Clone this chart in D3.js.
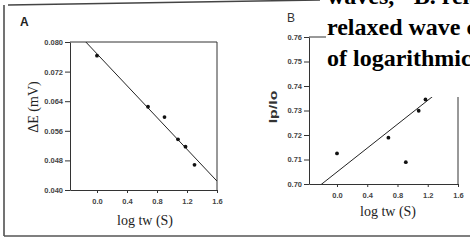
<!DOCTYPE html>
<html>
<head>
<meta charset="utf-8">
<script src="https://cdn.jsdelivr.net/npm/d3@7"></script>
<style>
  body { margin: 0; background: #fff; }
  svg { display: block; }
  .tick text { font-family: "Liberation Sans", Arial, sans-serif; font-weight: bold; fill: #444; }
  .tick line, .domain { stroke: #333; }
</style>
</head>
<body>
<div id="chart"></div>
<script>
// x ticks shared by both panels
const xTicks = [0.0, 0.4, 0.8, 1.2, 1.6];

// Panel A: delta E vs log tw
const logTwA = [0.0, 0.68, 0.90, 1.08, 1.18, 1.30];
const deltaE = [0.0763, 0.0625, 0.0597, 0.0537, 0.0517, 0.0468];
const fitA = [0.0768, -0.0215]; // intercept, slope
const yTicksA = [0.040, 0.048, 0.056, 0.064, 0.072, 0.080];

// Panel B: Ip/Io vs log tw
const logTwB = [0.0, 0.68, 0.91, 1.08, 1.17];
const ipIo = [0.7125, 0.7189, 0.7089, 0.7299, 0.7345];
const fitB = [0.7049, 0.02437];
const yTicksB = [0.70, 0.71, 0.72, 0.73, 0.74, 0.75, 0.76];

// caption text overlapping the top right (cut by the page edge as in the scan)
const captionLines = ['waves, "B. relaxed', 'relaxed wave current', 'of logarithmic time'];

const width = 470;
const height = 240;

const svg = d3.select('#chart')
  .append('svg')
  .attr('width', width)
  .attr('height', height);

// scanned page frame
svg.append('line').attr('x1', 4).attr('y1', 5).attr('x2', 4).attr('y2', 236)
  .attr('stroke', '#444').attr('stroke-width', 1.5);
svg.append('line').attr('x1', 8).attr('y1', 5).attr('x2', 320).attr('y2', 0)
  .attr('stroke', '#444').attr('stroke-width', 1.5);
svg.append('line').attr('x1', 4).attr('y1', 236).attr('x2', 470).attr('y2', 236)
  .attr('stroke', '#555').attr('stroke-width', 1.5);

function drawPanel(cfg) {
  const x = d3.scaleLinear().domain(cfg.xDomain).range([cfg.left, cfg.right]);
  const y = d3.scaleLinear().domain(cfg.yDomain).range([cfg.bottom, cfg.top]);
  const g = svg.append('g');

  g.append('clipPath').attr('id', cfg.id + '-clip')
    .append('rect')
    .attr('x', cfg.left).attr('y', cfg.top)
    .attr('width', cfg.right - cfg.left).attr('height', cfg.bottom - cfg.top);

  // y axis
  g.append('g')
    .attr('transform', `translate(${cfg.left},0)`)
    .call(d3.axisLeft(y).tickValues(cfg.yTicks).tickFormat(d3.format(cfg.yFormat))
      .tickSize(5).tickSizeOuter(0).tickPadding(2))
    .call((a) => a.selectAll('text').attr('font-size', cfg.tickFont));

  // x axis
  g.append('g')
    .attr('transform', `translate(0,${cfg.bottom})`)
    .call(d3.axisBottom(x).tickValues(xTicks).tickFormat(d3.format('.1f'))
      .tickSize(3).tickSizeOuter(0).tickPadding(6))
    .call((a) => a.selectAll('text').attr('font-size', cfg.tickFont));

  // box top and right
  g.append('line').attr('x1', cfg.left).attr('x2', cfg.right)
    .attr('y1', cfg.top).attr('y2', cfg.top).attr('stroke', '#333');
  g.append('line').attr('x1', cfg.right).attr('x2', cfg.right)
    .attr('y1', cfg.top).attr('y2', cfg.bottom).attr('stroke', '#333');

  // regression line
  const xs = [cfg.xDomain[0], cfg.xDomain[1]];
  g.append('line')
    .attr('clip-path', `url(#${cfg.id}-clip)`)
    .attr('x1', x(xs[0])).attr('y1', y(cfg.fit[0] + cfg.fit[1] * xs[0]))
    .attr('x2', x(xs[1])).attr('y2', y(cfg.fit[0] + cfg.fit[1] * xs[1]))
    .attr('stroke', '#222').attr('stroke-width', 1);

  // points
  g.selectAll('circle')
    .data(cfg.xs)
    .enter()
    .append('circle')
    .attr('cx', (d) => x(d))
    .attr('cy', (d, i) => y(cfg.ys[i]))
    .attr('r', 1.9)
    .attr('fill', '#111');

  return { x, y };
}

drawPanel({
  id: 'a', left: 70, right: 217, top: 42, bottom: 190,
  xDomain: [-0.36, 1.6], yDomain: [0.040, 0.080],
  yTicks: yTicksA, yFormat: '.3f', tickFont: 7.5,
  xs: logTwA, ys: deltaE, fit: fitA
});

drawPanel({
  id: 'b', left: 309, right: 458, top: 37, bottom: 184,
  xDomain: [-0.37, 1.6], yDomain: [0.70, 0.76],
  yTicks: yTicksB, yFormat: '.2f', tickFont: 7.5,
  xs: logTwB, ys: ipIo, fit: fitB
});

// panel letters
svg.append('text').attr('x', 20).attr('y', 26).text('A')
  .attr('font-family', '"Liberation Sans", Arial, sans-serif')
  .attr('font-size', 12).attr('font-weight', 'bold').attr('fill', '#222');
svg.append('text').attr('x', 287).attr('y', 22).text('B')
  .attr('font-family', '"Liberation Sans", Arial, sans-serif')
  .attr('font-size', 12).attr('fill', '#333');

// axis titles
const serif = '"Liberation Serif", "Times New Roman", serif';
svg.append('text').attr('x', 145).attr('y', 225).attr('text-anchor', 'middle')
  .attr('font-family', serif).attr('font-size', 14).attr('fill', '#222')
  .text('log tw (S)');
svg.append('text').attr('x', 388).attr('y', 216).attr('text-anchor', 'middle')
  .attr('font-family', serif).attr('font-size', 14).attr('fill', '#222')
  .text('log tw (S)');
svg.append('text')
  .attr('transform', 'translate(38,107) rotate(-90)')
  .attr('text-anchor', 'middle')
  .attr('font-family', serif).attr('font-size', 14).attr('fill', '#222')
  .text('ΔE (mV)');
svg.append('text')
  .attr('transform', 'translate(277,107) rotate(-90) scale(1.45,1)')
  .attr('text-anchor', 'middle')
  .attr('font-family', '"Liberation Sans", Arial, sans-serif')
  .attr('font-size', 11).attr('font-weight', 'bold').attr('fill', '#333')
  .text('Ip/Io');

// caption block pasted over the top right corner
svg.append('rect').attr('x', 326).attr('y', 0).attr('width', 144).attr('height', 97)
  .attr('fill', '#fff');
svg.selectAll('.caption')
  .data(captionLines)
  .enter()
  .append('text')
  .attr('class', 'caption')
  .attr('x', 327)
  .attr('y', (d, i) => 4 + i * 31)
  .attr('font-family', serif)
  .attr('font-size', 24)
  .attr('font-weight', 'bold')
  .attr('fill', '#000')
  .text((d) => d);
</script>
</body>
</html>
